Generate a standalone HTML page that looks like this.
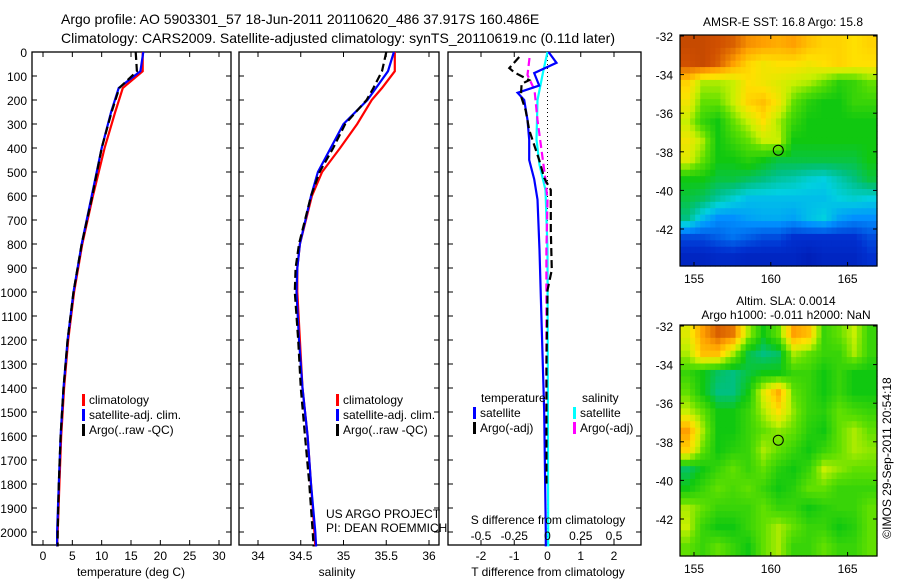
<!DOCTYPE html>
<html><head><meta charset="utf-8"><style>
body{margin:0;background:#fff}
svg{display:block;font-family:"Liberation Sans",sans-serif}
</style></head><body>
<svg id="s" width="900" height="580" viewBox="0 0 900 580">
<text x="61" y="24" font-size="14">Argo profile: AO 5903301_57 18-Jun-2011 20110620_486 37.917S 160.486E</text>
<text x="61" y="43" font-size="14" textLength="554">Climatology: CARS2009. Satellite-adjusted climatology: synTS_20110619.nc (0.11d later)</text>
</svg>
<script>
const depths=[0,80,150,250,400,600,800,1000,1200,1400,1600,1800,2000,2060];
const tempClim=[17,17,13.6,12.3,10.5,8.5,6.7,5.3,4.3,3.6,3.1,2.8,2.5,2.4];
const tempSat=[17.1,16.6,12.9,11.6,10.0,8.3,6.6,5.2,4.2,3.5,3.0,2.7,2.4,2.4];
const tempArgo=[15.8,16,13,11.7,10,8.4,6.6,5.2,4.2,3.5,3.0,2.7,2.5,2.5];
const salDepths=[0,80,150,200,300,400,500,600,800,900,1000,1200,1400,1600,1800,2000,2060];
const salClim=[35.6,35.6,35.45,35.33,35.16,34.96,34.75,34.63,34.49,34.46,34.46,34.49,34.52,34.58,34.62,34.66,34.67];
const salSat=[35.59,35.52,35.38,35.28,35.0,34.85,34.7,34.62,34.49,34.46,34.45,34.48,34.52,34.58,34.62,34.67,34.68];
const salArgo=[35.5,35.45,35.35,35.27,35.02,34.88,34.72,34.62,34.48,34.44,34.43,34.47,34.5,34.55,34.6,34.64,34.65];
const dtSatDepths=[0,45,88,140,170,200,283,365,450,530,615,825,1030,1500,2000,2060];
const dtSat=[0.03,0.27,-0.4,-0.25,-0.9,-0.7,-0.6,-0.55,-0.55,-0.4,-0.3,-0.24,-0.2,-0.1,-0.05,-0.05];
const dtArgoDepths=[21,67,85,117,133,183,242,325,450,525,575,742,908,992,1300,1800];
const dtArgo=[-0.85,-1.15,-1.0,-0.55,-0.78,-0.8,-0.66,-0.55,-0.25,-0.1,0.1,0.1,0.13,0.0,-0.03,-0.03];
const dsSatDepths=[0,75,200,365,470,575,825,2000,2060];
const dsSat=[0,-0.03,-0.075,-0.083,-0.06,-0.015,0,0.005,0.005];
const dsArgoDepths=[25,96,158,283,408,533,617,825,1800];
const dsArgo=[-0.135,-0.15,-0.098,-0.075,-0.045,-0.015,0,-0.008,-0.008];
const depthTicks=[0,100,200,300,400,500,600,700,800,900,1000,1100,1200,1300,1400,1500,1600,1700,1800,1900,2000];
const tempTicks=[0,5,10,15,20,25,30];
const salTicks=[34,34.5,35,35.5,36];
const salTickLabels=["34","34.5","35","35.5","36"];
const dTTicks=[-2,-1,0,1,2];
const dSTicks=[-0.5,-0.25,0,0.25,0.5];
const dSTickLabels=["-0.5","-0.25","0","0.25","0.5"];
const lonTicks=[155,160,165];
const latTicks=[-32,-34,-36,-38,-40,-42];
const sst=[
[0.92,0.92,0.9,0.88,0.82,0.8,0.78,0.8,0.75,0.72,0.72,0.7,0.72],
[0.9,0.92,0.88,0.8,0.72,0.68,0.7,0.7,0.68,0.7,0.72,0.7,0.7],
[0.72,0.6,0.6,0.62,0.7,0.68,0.65,0.62,0.6,0.55,0.48,0.5,0.55],
[0.68,0.55,0.55,0.62,0.72,0.75,0.68,0.55,0.48,0.45,0.45,0.5,0.5],
[0.62,0.5,0.45,0.55,0.62,0.7,0.6,0.5,0.45,0.45,0.45,0.45,0.45],
[0.68,0.6,0.45,0.5,0.55,0.62,0.62,0.45,0.45,0.45,0.45,0.45,0.45],
[0.65,0.55,0.45,0.45,0.48,0.45,0.42,0.42,0.42,0.42,0.42,0.42,0.45],
[0.45,0.45,0.42,0.42,0.4,0.38,0.36,0.35,0.33,0.32,0.35,0.38,0.42],
[0.42,0.4,0.36,0.33,0.3,0.3,0.3,0.3,0.3,0.3,0.32,0.33,0.32],
[0.38,0.3,0.25,0.25,0.27,0.28,0.28,0.27,0.3,0.32,0.27,0.25,0.25],
[0.18,0.18,0.2,0.22,0.2,0.18,0.18,0.15,0.15,0.15,0.15,0.15,0.18],
[0.12,0.12,0.13,0.13,0.12,0.12,0.12,0.12,0.1,0.12,0.12,0.12,0.15]];
const sla=[
[0.65,0.8,0.88,0.85,0.6,0.45,0.55,0.8,0.75,0.5,0.55,0.62,0.5],
[0.6,0.75,0.75,0.6,0.42,0.38,0.4,0.6,0.55,0.5,0.5,0.6,0.5],
[0.5,0.45,0.4,0.38,0.42,0.45,0.45,0.5,0.5,0.45,0.5,0.45,0.45],
[0.55,0.45,0.38,0.38,0.45,0.65,0.78,0.55,0.5,0.45,0.5,0.45,0.45],
[0.62,0.55,0.45,0.45,0.5,0.6,0.7,0.58,0.5,0.48,0.55,0.52,0.5],
[0.8,0.6,0.45,0.45,0.5,0.55,0.58,0.55,0.48,0.45,0.55,0.6,0.55],
[0.72,0.55,0.45,0.48,0.5,0.6,0.55,0.5,0.45,0.5,0.55,0.6,0.58],
[0.4,0.45,0.5,0.55,0.5,0.55,0.48,0.45,0.5,0.62,0.58,0.55,0.55],
[0.45,0.5,0.55,0.52,0.55,0.5,0.45,0.48,0.55,0.55,0.5,0.5,0.5],
[0.6,0.55,0.5,0.5,0.5,0.55,0.5,0.5,0.45,0.48,0.5,0.5,0.55],
[0.62,0.5,0.45,0.45,0.5,0.55,0.6,0.55,0.5,0.5,0.45,0.48,0.55],
[0.55,0.5,0.55,0.5,0.45,0.55,0.6,0.5,0.5,0.55,0.5,0.5,0.55]];
const argoLon=160.486, argoLat=-37.917;

const svg=document.getElementById('s');
const NS='http://www.w3.org/2000/svg';
function mk(tag,at,parent){const e=document.createElementNS(NS,tag);for(const k in at)e.setAttribute(k,at[k]);(parent||svg).appendChild(e);return e;}
function txt(x,y,s,size,anchor){const t=mk('text',{x:x,y:y,'font-size':size||12,'text-anchor':anchor||'start'});t.textContent=s;return t;}
const yTop=52,yBot=545;
const yD=d=>yTop+d*0.24;
function axisX(x0,v0,x1,v1){return v=>x0+(v-v0)*(x1-x0)/(v1-v0);}
function panel(name,L,R){const r=mk('rect',{x:L,y:yTop,width:R-L,height:yBot-yTop,fill:'none',stroke:'#000','stroke-width':1.3});

}
function line(name,xs,ds,fx,color,dash){const p=xs.map((v,i)=>fx(v).toFixed(1)+','+yD(ds[i]).toFixed(1)).join(' ');
const e=mk('polyline',{points:p,fill:'none',stroke:color,'stroke-width':2.2});if(dash)e.setAttribute('stroke-dasharray',dash);

}
function xticks(fx,vals,labels,yl){vals.forEach((v,i)=>{const x=fx(v);mk('line',{x1:x,y1:yBot,x2:x,y2:yBot-5,stroke:'#000'});mk('line',{x1:x,y1:yTop,x2:x,y2:yTop+5,stroke:'#000'});
const t=txt(x,yl,labels[i],12,'middle');
});}
function legend(x,y,items){items.forEach((it,i)=>{mk('rect',{x:x,y:y+i*15-10,width:3,height:12,fill:it[1]});const t=txt(x+7,y+i*15,it[0],12);

});}

const fT=axisX(43,0,219,30);
panel('temperature-panel',32,231);
depthTicks.forEach(d=>{const y=yD(d);mk('line',{x1:32,y1:y,x2:37,y2:y,stroke:'#000'});mk('line',{x1:231,y1:y,x2:226,y2:y,stroke:'#000'});
const t=txt(27,y+5,String(d),12,'end');
});
xticks(fT,tempTicks,tempTicks.map(String),560);
line('temp-climatology',tempClim,depths,fT,'#f00');
line('temp-satellite-adj',tempSat,depths,fT,'#00f');
line('temp-argo',tempArgo,depths.slice(0,tempArgo.length),fT,'#000','8,4');
legend(82,404,[['climatology','#f00'],['satellite-adj. clim.','#00f'],['Argo(..raw -QC)','#000']]);
txt(131,576,'temperature (deg C)',12,'middle');

const fS=axisX(258,34,429,36);
panel('salinity-panel',239,439);
depthTicks.forEach(d=>{const y=yD(d);mk('line',{x1:239,y1:y,x2:244,y2:y,stroke:'#000'});mk('line',{x1:439,y1:y,x2:434,y2:y,stroke:'#000'});});
xticks(fS,salTicks,salTickLabels,560);
line('sal-climatology',salClim,salDepths,fS,'#f00');
line('sal-satellite-adj',salSat,salDepths,fS,'#00f');
line('sal-argo',salArgo,salDepths,fS,'#000','8,4');
legend(336,404,[['climatology','#f00'],['satellite-adj. clim.','#00f'],['Argo(..raw -QC)','#000']]);
txt(326,518,'US ARGO PROJECT',12);txt(326,532,'PI: DEAN ROEMMICH',12);
txt(337,576,'salinity',12,'middle');

const fdT=axisX(481,-2,614,2);
const fdS=axisX(481,-0.5,614,0.5);
panel('difference-panel',448,641);
depthTicks.forEach(d=>{const y=yD(d);mk('line',{x1:448,y1:y,x2:453,y2:y,stroke:'#000'});mk('line',{x1:641,y1:y,x2:636,y2:y,stroke:'#000'});});
xticks(fdT,dTTicks,dTTicks.map(String),560);
mk('line',{x1:fdT(0),y1:yTop,x2:fdT(0),y2:yBot,stroke:'#000','stroke-dasharray':'1,3'});
line('s-diff-satellite',dsSat,dsSatDepths,fdS,'#0ff');
line('s-diff-argo',dsArgo,dsArgoDepths,fdS,'#f0f','8,4');
line('t-diff-satellite',dtSat,dtSatDepths,fdT,'#00f');
line('t-diff-argo',dtArgo,dtArgoDepths,fdT,'#000','8,4');
txt(481,402,'temperature',12);txt(582,402,'salinity',12);
legend(473,417,[['satellite','#00f'],['Argo(-adj)','#000']]);
legend(573,417,[['satellite','#0ff'],['Argo(-adj)','#f0f']]);
txt(548,524,'S difference from climatology',12,'middle');
dSTicks.forEach((v,i)=>txt(fdS(v),540,dSTickLabels[i],12,'middle'));
txt(548,576,'T difference from climatology',12,'middle');

const stops=[[0,[0,0,140]],[0.15,[0,48,208]],[0.25,[0,144,255]],[0.32,[0,208,224]],[0.38,[0,192,128]],[0.45,[16,200,16]],[0.55,[96,224,0]],[0.62,[200,240,0]],[0.7,[255,224,0]],[0.8,[255,160,0]],[0.9,[208,80,0]],[1,[160,48,0]]];
function cmap(v){for(let i=1;i<stops.length;i++){if(v<=stops[i][0]){const a=stops[i-1],b=stops[i],t=(v-a[0])/(b[0]-a[0]);return 'rgb('+a[1].map((c,k)=>Math.round(c+(b[1][k]-c)*t)).join(',')+')';}}return 'rgb(160,48,0)';}
function sample(grid,fr,fc){const nr=grid.length,nc=grid[0].length;
 const r=Math.min(Math.max(fr,0),nr-1),c=Math.min(Math.max(fc,0),nc-1);
 const r0=Math.floor(r),c0=Math.floor(c),r1=Math.min(r0+1,nr-1),c1=Math.min(c0+1,nc-1),tr=r-r0,tc=c-c0;
 return (grid[r0][c0]*(1-tc)+grid[r0][c1]*tc)*(1-tr)+(grid[r1][c0]*(1-tc)+grid[r1][c1]*tc)*tr;}
function map(name,grid,top){
 const L=680,R=877,B=top+231;
 const fx=axisX(694,155,847.6,165), fy=axisX(top+1,-32,top+194,-42);
 const g=mk('g',{});
 
 const up=3,nr=grid.length*up,nc=grid[0].length*up,cw=(R-L)/nc,ch=(B-top)/nr;
 for(let r=0;r<nr;r++)for(let c=0;c<nc;c++){
  const v=sample(grid,(r+0.5)/up-0.5,(c+0.5)/up-0.5);
  const e=mk('rect',{x:L+c*cw,y:top+r*ch,width:cw+0.6,height:ch+0.6,fill:cmap(v)},g);
  
  }
 mk('rect',{x:L,y:top,width:R-L,height:B-top,fill:'none',stroke:'#000','stroke-width':1.2});
 lonTicks.forEach(v=>{const x=fx(v);mk('line',{x1:x,y1:top,x2:x,y2:top+4,stroke:'#000'});mk('line',{x1:x,y1:B,x2:x,y2:B-4,stroke:'#000'});txt(x,B+17,String(v),12,'middle');});
 latTicks.forEach(v=>{const y=fy(v);mk('line',{x1:L,y1:y,x2:L+4,y2:y,stroke:'#000'});mk('line',{x1:R,y1:y,x2:R-4,y2:y,stroke:'#000'});txt(L-7,y+5,String(v),12,'end');});
 const c=mk('circle',{cx:fx(argoLon),cy:fy(argoLat),r:5,fill:'none',stroke:'#000'});
 
 
}
map('sst-map',sst,35);
map('sla-map',sla,325);
txt(783,26,'AMSR-E SST: 16.8 Argo: 15.8',12,'middle');
txt(786,305,'Altim. SLA: 0.0014',12,'middle');
txt(786,319,'Argo h1000: -0.011 h2000: NaN',12,'middle');
const ts=txt(0,0,'\u00a9IMOS 29-Sep-2011 20:54:18',12,'middle');ts.setAttribute('transform','translate(891,458) rotate(-90)');


</script>
</body></html>
